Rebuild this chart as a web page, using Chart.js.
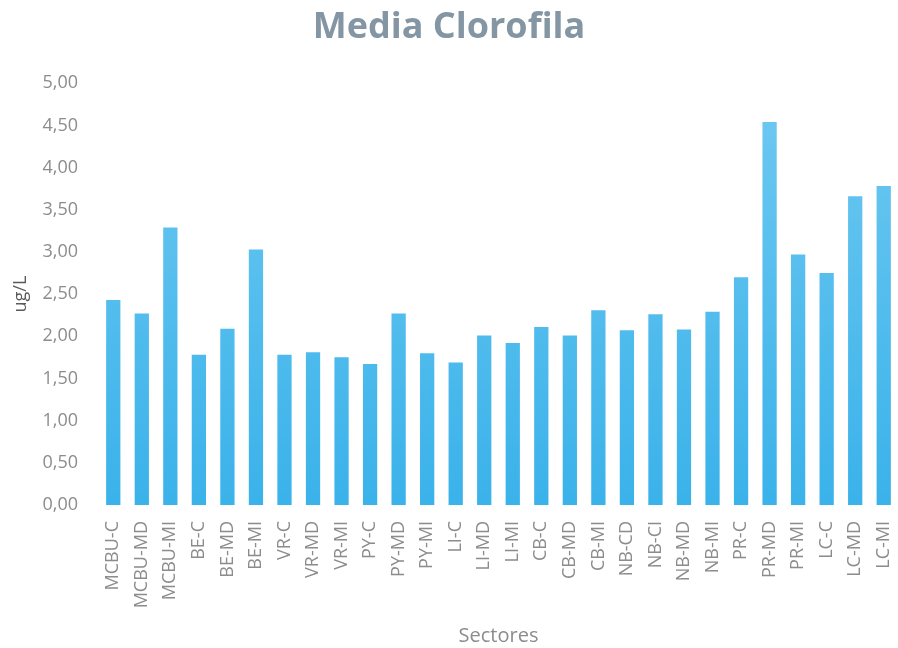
<!DOCTYPE html>
<html>
<head>
<meta charset="utf-8">
<script src="https://cdn.jsdelivr.net/npm/chart.js@4/dist/chart.umd.min.js"></script>
<style>
    html, body { margin: 0; padding: 0; background: #fff; }
    #wrap { width: 898px; height: 648px; }
</style>
</head>
<body>
<div id="wrap"><canvas id="myChart" width="898" height="648"></canvas></div>
<script>
const sectores = [
    'MCBU-C', 'MCBU-MD', 'MCBU-MI', 'BE-C', 'BE-MD', 'BE-MI', 'VR-C', 'VR-MD', 'VR-MI',
    'PY-C', 'PY-MD', 'PY-MI', 'LI-C', 'LI-MD', 'LI-MI', 'CB-C', 'CB-MD', 'CB-MI',
    'NB-CD', 'NB-CI', 'NB-MD', 'NB-MI', 'PR-C', 'PR-MD', 'PR-MI', 'LC-C', 'LC-MD', 'LC-MI'
];
const clorofila = [
    2.43, 2.27, 3.29, 1.78, 2.09, 3.03, 1.78, 1.81, 1.75,
    1.67, 2.27, 1.80, 1.69, 2.01, 1.92, 2.11, 2.01, 2.31,
    2.07, 2.26, 2.08, 2.29, 2.70, 4.54, 2.97, 2.75, 3.66, 3.78
];
const yMin = 0;
const yMax = 5;
const yStep = 0.5;

const fontFamily = "'Open Sans', 'Noto Sans', sans-serif";
const gris = '#8c8c8c';

// degradado vertical de las barras
function barGradient(context) {
    const chart = context.chart;
    const area = chart.chartArea;
    if (!area) return '#52b9ec';
    const g = chart.ctx.createLinearGradient(0, area.top, 0, area.bottom);
    g.addColorStop(0, '#6fc9f1');
    g.addColorStop(1, '#3ab2ea');
    return g;
}

let myChart = null;

function initChart() {
    const ctx = document.getElementById('myChart').getContext('2d');
    myChart = new Chart(ctx, {
        type: 'bar',
        data: {
            labels: sectores,
            datasets: [{
                label: 'Media Clorofila',
                data: clorofila,
                backgroundColor: barGradient,
                borderWidth: 0,
                barPercentage: 0.5,
                categoryPercentage: 1.0
            }]
        },
        options: {
            responsive: false,
            animation: false,
            layout: { padding: 0 },
            scales: {
                x: {
                    grid: { display: false, drawTicks: false },
                    border: { display: false },
                    ticks: {
                        color: gris,
                        font: { family: fontFamily, size: 18 },
                        minRotation: 90,
                        maxRotation: 90,
                        autoSkip: false,
                        padding: 16
                    },
                    title: {
                        display: true,
                        text: 'Sectores',
                        color: gris,
                        font: { family: fontFamily, size: 20 },
                        padding: { top: 0, bottom: 0 }
                    },
                    // sin margen lateral extra por las etiquetas giradas
                    afterFit: (scale) => {
                        scale.height = 143;
                        scale.paddingLeft = 0;
                        scale.paddingRight = 0;
                    }
                },
                y: {
                    min: yMin,
                    max: yMax,
                    grid: { display: false, drawTicks: false },
                    border: { display: false },
                    ticks: {
                        stepSize: yStep,
                        color: gris,
                        font: { family: fontFamily, size: 18 },
                        padding: 21,
                        callback: (v) => Number(v).toFixed(2).replace('.', ',')
                    },
                    title: {
                        display: true,
                        text: 'ug/L',
                        color: '#5a5a5a',
                        font: { family: fontFamily, size: 18 },
                        padding: { top: 10, bottom: 0 }
                    },
                    afterFit: (scale) => { scale.width = 99; }
                }
            },
            plugins: {
                legend: { display: false },
                tooltip: { enabled: false },
                title: {
                    display: true,
                    text: 'Media Clorofila',
                    color: '#8496a3',
                    font: { family: fontFamily, size: 36, weight: 'bold' },
                    padding: { top: 6, bottom: 34 }
                }
            }
        }
    });
}

document.addEventListener('DOMContentLoaded', () => {
    initChart();
});
</script>
</body>
</html>
